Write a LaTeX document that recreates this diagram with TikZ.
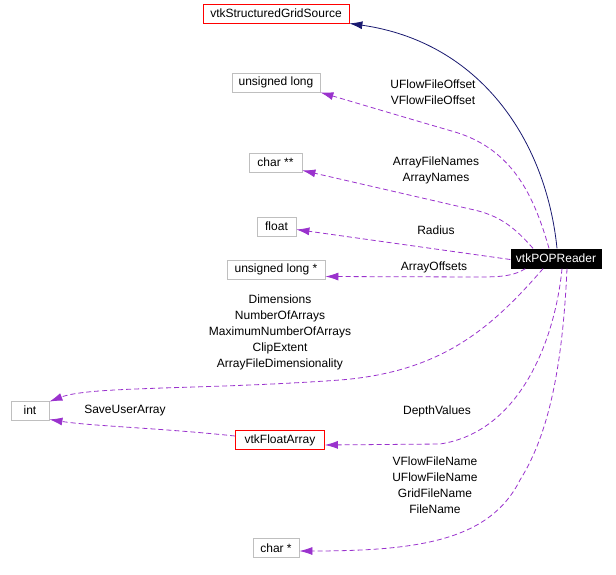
\documentclass[tikz,border=0pt]{standalone}
\usepackage{fontspec}
\setmainfont{Liberation Sans}
\usetikzlibrary{arrows.meta}
\definecolor{edgepurple}{HTML}{9A32CD}
\definecolor{navyedge}{HTML}{191970}
\definecolor{boxgrey}{HTML}{BFBFBF}
\begin{document}
\begin{tikzpicture}[x=1pt,y=-1pt,
  every node/.style={font=\fontsize{12}{16}\selectfont, inner sep=0pt, align=center},
  greybox/.style={draw=boxgrey, line width=0.8pt, rectangle, minimum height=19pt},
  redbox/.style={draw=red, line width=0.8pt, rectangle, minimum height=19pt},
  mainbox/.style={fill=black, text=white, rectangle, minimum height=20pt},
  useedge/.style={draw=edgepurple, line width=0.8pt, dash pattern=on 5pt off 3pt,
     -{Latex[length=13pt,width=8pt,fill=edgepurple]}},
  inhedge/.style={draw=navyedge, line width=0.8pt, -{Latex[length=13pt,width=8pt,fill=navyedge]}},
  lbl/.style={text=black}]
\useasboundingbox (0,0) rectangle (616,574);

% nodes
\node[redbox, minimum width=146pt] (sgs) at (276,13.5) {vtkStructuredGridSource};
\node[greybox, minimum width=88pt] (ulong) at (276,82.5) {unsigned long};
\node[greybox, minimum width=53pt] (cpp) at (275.5,162.5) {char **};
\node[greybox, minimum width=39pt] (flt) at (276.5,226.5) {float};
\node[greybox, minimum width=98pt] (ulongp) at (276,269.5) {unsigned long *};
\node[mainbox, minimum width=91pt] (pop) at (556,258.5) {vtkPOPReader};
\node[greybox, minimum width=38pt] (int) at (30,410.5) {int};
\node[redbox, minimum width=89pt] (vfa) at (280,440) {vtkFloatArray};
\node[greybox, minimum width=46pt] (cp) at (276,548) {char *};

% labels
\node[lbl] (l1) at (433,92) {UFlowFileOffset\\VFlowFileOffset};
\node[lbl] (l2) at (436,170) {ArrayFileNames\\ArrayNames};
\node[lbl] (l3) at (436,230) {Radius};
\node[lbl] (l4) at (434,267) {ArrayOffsets};
\node[lbl] (l5) at (280,332) {Dimensions\\NumberOfArrays\\MaximumNumberOfArrays\\ClipExtent\\ArrayFileDimensionality};
\node[lbl] (l6) at (125,411) {SaveUserArray};
\node[lbl] (l7) at (437,411) {DepthValues};
\node[lbl] (l8) at (435,485) {VFlowFileName\\UFlowFileName\\GridFileName\\FileName};

% edges (yshift is in canvas units: positive = up)
\draw[inhedge] ([xshift=1pt]pop.north) .. controls (546,140) and (480,42) .. (sgs.south east);
\draw[useedge] ([xshift=-7pt]pop.north) .. controls (535,200) and (515,150) .. (455,132) .. controls (400,116) and (360,104) .. (ulong.south east);
\draw[useedge] ([xshift=-23pt]pop.north) .. controls (515,228) and (500,215) .. (470,209) -- ([yshift=2pt]cpp.south east);
\draw[useedge] ([yshift=-1pt]pop.west) -- ([yshift=-3pt]flt.east);
\draw[useedge] ([xshift=15pt]pop.south west) .. controls (515,275) and (505,277) .. (480,277) -- ([yshift=-7pt]ulongp.east);
\draw[useedge] ([xshift=-13pt]pop.south) .. controls (490,330) and (440,372) .. (340,380) .. controls (200,390) and (90,386) .. ([yshift=-1pt]int.north east);
\draw[useedge] ([yshift=4pt]vfa.west) .. controls (160,428) and (90,426) .. ([yshift=1pt]int.south east);
\draw[useedge] ([xshift=6pt]pop.south) .. controls (555,340) and (520,432) .. (440,444) -- ([yshift=-5pt]vfa.east);
\draw[useedge] ([xshift=11pt]pop.south) .. controls (562,380) and (545,440) .. (520,480) .. controls (490,540) and (420,551) .. ([yshift=-3pt]cp.east);
\end{tikzpicture}
\end{document}
